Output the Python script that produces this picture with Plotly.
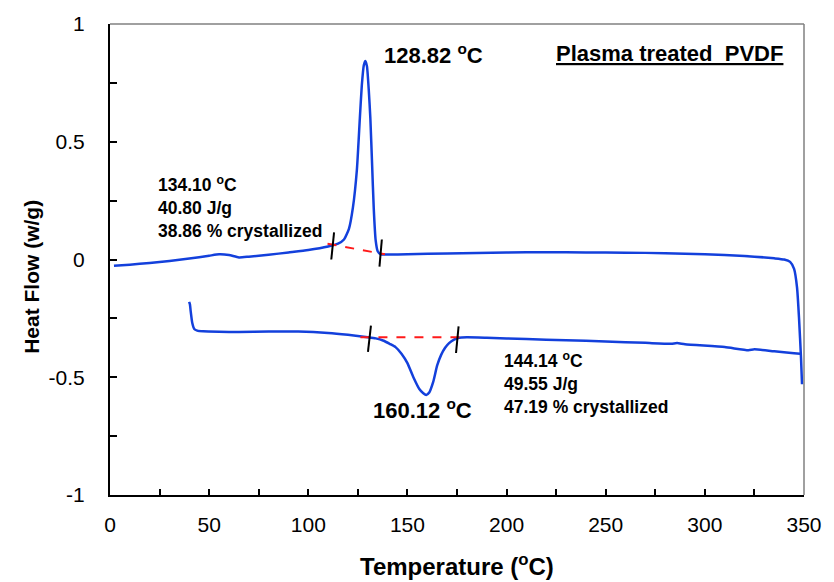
import plotly.graph_objects as go

# Upper DSC curve
upper_x = [2, 10, 20, 30, 40, 50, 55, 60, 65, 70, 80, 90, 100, 110, 115, 118, 120.5, 122.5, 124.5,
           126, 127, 128, 128.8, 129.6, 130.5, 131.3, 132.2, 133, 134, 135, 136.5, 140, 150,
           170, 200, 220, 240, 260, 280, 300, 320, 335, 340, 343, 345, 346.5, 347.5, 348.5, 349]
upper_y = [-0.027, -0.022, -0.015, -0.006, 0.004, 0.016, 0.022, 0.019, 0.009, 0.012, 0.020,
           0.030, 0.040, 0.055, 0.067, 0.085, 0.13, 0.22, 0.38, 0.60, 0.74, 0.825, 0.843, 0.82,
           0.72, 0.60, 0.40, 0.22, 0.08, 0.035, 0.022, 0.021, 0.022, 0.026, 0.030, 0.031, 0.030,
           0.029, 0.027, 0.022, 0.015, 0.005, 0.0, -0.01, -0.04, -0.12, -0.25, -0.42, -0.53]

# Lower DSC curve
lower_x = [39.9, 40.3, 40.7, 41.5, 42.5, 44, 47, 55, 65, 80, 95, 110, 120, 126, 130, 134, 138,
           141, 144, 147, 150, 153, 156, 158, 159.5, 161, 163, 165, 167, 169, 171, 173.5, 176,
           180, 190, 210, 230, 250, 270, 283, 286, 290, 310, 322, 325, 335, 345, 348]
lower_y = [-0.18, -0.19, -0.22, -0.27, -0.295, -0.302, -0.305, -0.307, -0.308, -0.306, -0.306,
           -0.312, -0.32, -0.326, -0.33, -0.335, -0.345, -0.358, -0.372, -0.40, -0.44, -0.50,
           -0.55, -0.568, -0.575, -0.565, -0.52, -0.45, -0.405, -0.375, -0.355, -0.34, -0.332,
           -0.33, -0.332, -0.338, -0.343, -0.348, -0.354, -0.358, -0.355, -0.36, -0.372, -0.385,
           -0.381, -0.39, -0.398, -0.40]

# Baselines (red dashed)
base1_x = [109.7, 138.7]
base1_y = [0.067, 0.022]
base2_x = [126.3, 177.8]
base2_y = [-0.33, -0.33]

# Integration limit marks (black)
marks = [
    ([113.0, 111.6], [0.115, 0.0]),
    ([137.1, 135.9], [0.085, -0.03]),
    ([131.6, 130.1], [-0.281, -0.392]),
    ([175.8, 174.5], [-0.284, -0.397]),
]

x_ticks = [0, 50, 100, 150, 200, 250, 300, 350]
y_ticks = [-1, -0.5, 0, 0.5, 1]
y_tick_text = ["-1", "-0.5", "0", "0.5", "1"]

FONT = "Liberation Sans, Arial, sans-serif"
BLUE = "#1340dc"

fig = go.Figure()
fig.add_trace(go.Scatter(x=upper_x, y=upper_y, mode="lines",
                         line=dict(color=BLUE, width=2.5, shape="spline", smoothing=0.5),
                         showlegend=False))
fig.add_trace(go.Scatter(x=lower_x, y=lower_y, mode="lines",
                         line=dict(color=BLUE, width=2.5, shape="spline", smoothing=0.5),
                         showlegend=False))
for bx, by in [(base1_x, base1_y), (base2_x, base2_y)]:
    fig.add_trace(go.Scatter(x=bx, y=by, mode="lines",
                             line=dict(color="#ff1a1a", width=2, dash="dash"), showlegend=False))
for mx, my in marks:
    fig.add_trace(go.Scatter(x=mx, y=my, mode="lines",
                             line=dict(color="black", width=2), showlegend=False))

ann = []
ann.append(dict(x=137.1, y=0.874, xref="x", yref="y", xanchor="left", yanchor="middle",
                text="<b>128.82 <sup>o</sup>C</b>", showarrow=False,
                font=dict(family=FONT, size=22, color="black")))
ann.append(dict(x=340.5, y=0.874, xref="x", yref="y", xanchor="right", yanchor="middle",
                text="<b><u>Plasma treated  PVDF</u></b>", showarrow=False,
                font=dict(family=FONT, size=22, color="black")))
ann.append(dict(x=23.4, y=0.224, xref="x", yref="y", xanchor="left", yanchor="middle", align="left",
                text="<b>134.10 <sup>o</sup>C<br>40.80 J/g<br>38.86 % crystallized</b>", showarrow=False,
                font=dict(family=FONT, size=17.5, color="black")))
ann.append(dict(x=131.6, y=-0.634, xref="x", yref="y", xanchor="left", yanchor="middle",
                text="<b>160.12 <sup>o</sup>C</b>", showarrow=False,
                font=dict(family=FONT, size=22, color="black")))
ann.append(dict(x=197.9, y=-0.524, xref="x", yref="y", xanchor="left", yanchor="middle", align="left",
                text="<b>144.14 <sup>o</sup>C<br>49.55 J/g<br>47.19 % crystallized</b>", showarrow=False,
                font=dict(family=FONT, size=17.5, color="black")))
ann.append(dict(x=-0.1125, y=0.463, xref="paper", yref="paper", xanchor="center", yanchor="middle",
                textangle=-90, text="<b>Heat Flow (w/g)</b>", showarrow=False,
                font=dict(family=FONT, size=21, color="black")))
ann.append(dict(x=0.5, y=-0.149, xref="paper", yref="paper", xanchor="center", yanchor="middle",
                text="<b>Temperature (<sup>o</sup>C)</b>", showarrow=False,
                font=dict(family=FONT, size=24, color="black")))

fig.update_layout(
    width=834, height=582,
    margin=dict(l=110, r=22, t=20, b=87),
    paper_bgcolor="white", plot_bgcolor="white",
    annotations=ann,
    shapes=[
        dict(type="line", xref="paper", yref="paper", x0=0, x1=1, y0=1, y1=1,
             line=dict(color="#808080", width=1.5)),
        dict(type="line", xref="paper", yref="paper", x0=1, x1=1, y0=0, y1=1,
             line=dict(color="#808080", width=1.5)),
    ],
)
fig.update_xaxes(range=[0, 350], tickvals=x_ticks, showgrid=False, zeroline=False,
                 showline=True, linecolor="black", linewidth=2,
                 ticks="inside", ticklen=6, tickwidth=2, tickcolor="black",
                 minor=dict(ticks="inside", dtick=25, ticklen=6, tickwidth=2, tickcolor="black"),
                 tickfont=dict(family=FONT, size=21, color="black"), ticklabelstandoff=10)
fig.update_yaxes(range=[-1, 1], tickvals=y_ticks, ticktext=y_tick_text, showgrid=False, zeroline=False,
                 showline=True, linecolor="black", linewidth=2,
                 ticks="inside", ticklen=7, tickwidth=2, tickcolor="black",
                 minor=dict(ticks="inside", dtick=0.25, ticklen=7, tickwidth=2, tickcolor="black"),
                 tickfont=dict(family=FONT, size=21, color="black"), ticklabelstandoff=19)

fig.write_html("out.html")
